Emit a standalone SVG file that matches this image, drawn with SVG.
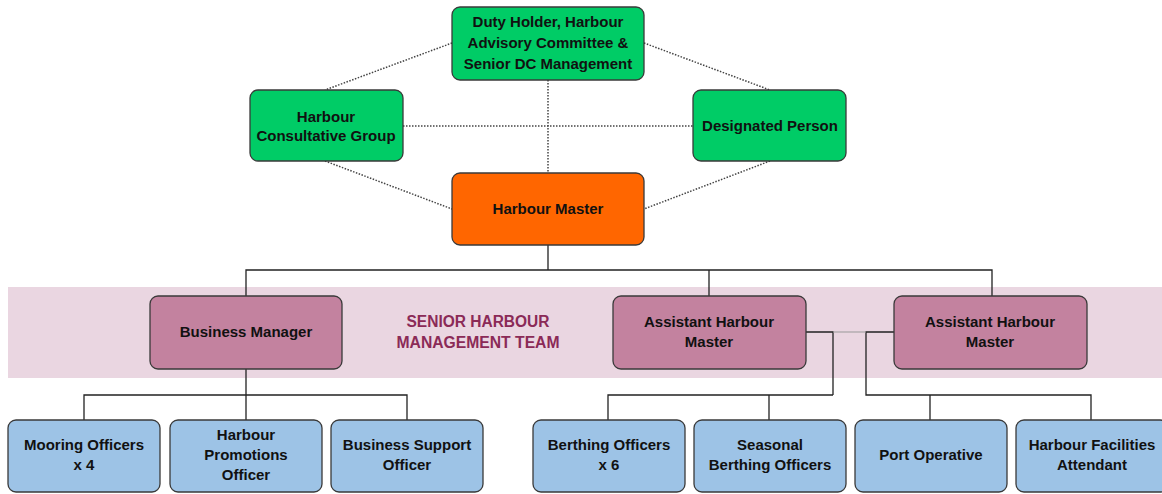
<svg xmlns="http://www.w3.org/2000/svg" width="1162" height="494" viewBox="0 0 1162 494">
<style>
.n{stroke:#3a3a3a;stroke-width:1.3}
.g{fill:#00CC66}
.o{fill:#FF6600}
.m{fill:#C3829F}
.b{fill:#9DC3E6}
text{font-family:"Liberation Sans Narrow","Liberation Sans",Arial,sans-serif;font-weight:bold;font-size:15px;fill:#111;text-anchor:middle}
.lbl{fill:#8B2A57;font-size:16px}
.dot{stroke:#444;stroke-width:1.5;stroke-dasharray:1.5 1.5;fill:none}
.sol{stroke:#222;stroke-width:1.3;fill:none}
</style>
<rect width="1162" height="494" fill="#fff"/>
<rect x="8" y="287" width="1154" height="91" fill="#EAD6E1"/>
<text class="lbl" x="478" y="327" textLength="143" lengthAdjust="spacingAndGlyphs">SENIOR HARBOUR</text>
<text class="lbl" x="478" y="348" textLength="163" lengthAdjust="spacingAndGlyphs">MANAGEMENT TEAM</text>
<g id="connectors">
<line class="dot" x1="452" y1="43" x2="325" y2="90"/>
<line class="dot" x1="644" y1="43" x2="770" y2="90"/>
<line class="dot" x1="548" y1="80" x2="548" y2="173"/>
<line class="dot" x1="403" y1="126" x2="693" y2="126"/>
<line class="dot" x1="325" y1="161" x2="452" y2="209"/>
<line class="dot" x1="770" y1="161" x2="644" y2="209"/>
<path class="sol" d="M548 245V270M246 296V270H992V296M709 270V296"/>
<path class="sol" d="M246 369V420M84 420V395H407V420"/>
<path class="sol" d="M806 332H833V395M608 420V395H833M769 395V420"/>
<path class="sol" d="M894 332H866V395H1091V420M930 395V420"/>
<line x1="833" y1="332" x2="866" y2="332" stroke="#999" stroke-width="1"/>
</g>
<g id="n-duty"><rect class="n g" x="452" y="7" width="192" height="73" rx="8"/><text x="548" y="27">Duty Holder, Harbour</text><text x="548" y="48">Advisory Committee &amp;</text><text x="548" y="69">Senior DC Management</text></g>
<g id="n-hcg"><rect class="n g" x="250" y="90" width="153" height="71" rx="8"/><text x="326" y="122">Harbour</text><text x="326" y="141">Consultative Group</text></g>
<g id="n-dp"><rect class="n g" x="693" y="90" width="153" height="71" rx="8"/><text x="770" y="131">Designated Person</text></g>
<g id="n-hm"><rect class="n o" x="452" y="173" width="192" height="72" rx="8"/><text x="548" y="214">Harbour Master</text></g>
<g id="n-bm"><rect class="n m" x="150" y="296" width="192" height="73" rx="8"/><text x="246" y="337">Business Manager</text></g>
<g id="n-ahm1"><rect class="n m" x="613" y="296" width="193" height="73" rx="8"/><text x="709" y="327">Assistant Harbour</text><text x="709" y="347">Master</text></g>
<g id="n-ahm2"><rect class="n m" x="894" y="296" width="193" height="73" rx="8"/><text x="990" y="327">Assistant Harbour</text><text x="990" y="347">Master</text></g>
<g id="n-moor"><rect class="n b" x="8" y="420" width="152" height="72" rx="8"/><text x="84" y="450">Mooring Officers</text><text x="84" y="470">x 4</text></g>
<g id="n-promo"><rect class="n b" x="170" y="420" width="152" height="72" rx="8"/><text x="246" y="440">Harbour</text><text x="246" y="460">Promotions</text><text x="246" y="480">Officer</text></g>
<g id="n-bso"><rect class="n b" x="331" y="420" width="152" height="72" rx="8"/><text x="407" y="450">Business Support</text><text x="407" y="470">Officer</text></g>
<g id="n-berth"><rect class="n b" x="533" y="420" width="152" height="72" rx="8"/><text x="609" y="450">Berthing Officers</text><text x="609" y="470">x 6</text></g>
<g id="n-seas"><rect class="n b" x="694" y="420" width="152" height="72" rx="8"/><text x="770" y="450">Seasonal</text><text x="770" y="470">Berthing Officers</text></g>
<g id="n-port"><rect class="n b" x="855" y="420" width="152" height="72" rx="8"/><text x="931" y="460">Port Operative</text></g>
<g id="n-hfa"><rect class="n b" x="1016" y="420" width="152" height="72" rx="8"/><text x="1092" y="450">Harbour Facilities</text><text x="1092" y="470">Attendant</text></g>
</svg>
